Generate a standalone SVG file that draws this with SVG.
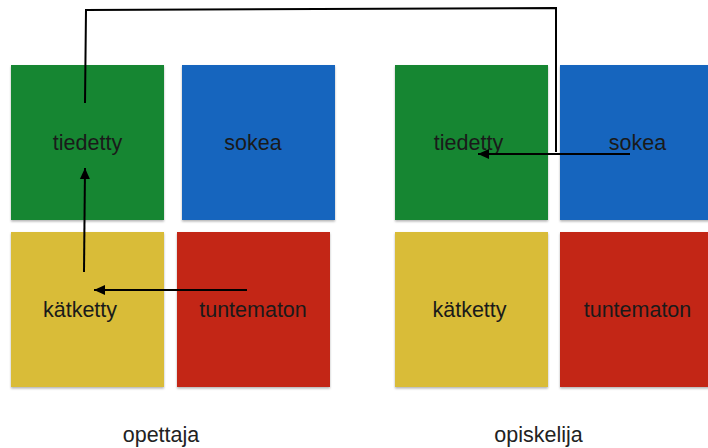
<svg xmlns="http://www.w3.org/2000/svg" width="708" height="448" viewBox="0 0 708 448">
<style>
.lbl{font-family:"Liberation Sans",Arial,sans-serif;font-size:21.5px;fill:#1a1a1a;text-anchor:middle}
.cap{font-family:"Liberation Sans",Arial,sans-serif;font-size:21.5px;fill:#222;text-anchor:middle}
.green{fill:#138632}.blue{fill:#1565be}.yellow{fill:#d9bc37}.red{fill:#c32819}
.con{fill:none;stroke:#000;stroke-width:2}
</style>
<defs>
<filter id="sh" x="-5%" y="-5%" width="110%" height="115%">
<feDropShadow dx="0" dy="1.5" stdDeviation="1.2" flood-color="#000" flood-opacity="0.3"/>
</filter>
<marker id="ah" markerUnits="userSpaceOnUse" markerWidth="12" markerHeight="12" viewBox="0 0 12 12" refX="11" refY="6" orient="auto">
<path d="M0,1 L11,6 L0,11 Z" fill="#000"/>
</marker>
</defs>
<g id="opettaja-tiedetty"><rect class="green" x="11" y="65" width="153" height="155" filter="url(#sh)"/><text class="lbl" x="87.5" y="150">tiedetty</text></g>
<g id="opettaja-sokea"><rect class="blue" x="182" y="65" width="153" height="155" filter="url(#sh)"/><text class="lbl" x="253" y="150">sokea</text></g>
<g id="opettaja-katketty"><rect class="yellow" x="11" y="232" width="153" height="155" filter="url(#sh)"/><text class="lbl" x="80" y="317">kätketty</text></g>
<g id="opettaja-tuntematon"><rect class="red" x="177" y="232" width="153" height="155" filter="url(#sh)"/><text class="lbl" x="253" y="317">tuntematon</text></g>
<g id="opiskelija-tiedetty"><rect class="green" x="395" y="65" width="153" height="155" filter="url(#sh)"/><text class="lbl" x="468.5" y="150">tiedetty</text></g>
<g id="opiskelija-sokea"><rect class="blue" x="560" y="65" width="155" height="155" filter="url(#sh)"/><text class="lbl" x="637.5" y="150">sokea</text></g>
<g id="opiskelija-katketty"><rect class="yellow" x="395" y="232" width="153" height="155" filter="url(#sh)"/><text class="lbl" x="469.5" y="317">kätketty</text></g>
<g id="opiskelija-tuntematon"><rect class="red" x="560" y="232" width="155" height="155" filter="url(#sh)"/><text class="lbl" x="637.5" y="317">tuntematon</text></g>
<g id="captions"><text class="cap" x="161" y="442">opettaja</text><text class="cap" x="538.5" y="442">opiskelija</text></g>
<g id="connectors">
<path class="con" d="M85,103 L86,10 L556,8 L556,152"/>
<path class="con" d="M630,154 L478,154" marker-end="url(#ah)"/>
<path class="con" d="M84,272 L85,168" marker-end="url(#ah)"/>
<path class="con" d="M247,290 L94,290" marker-end="url(#ah)"/>
</g>
</svg>
